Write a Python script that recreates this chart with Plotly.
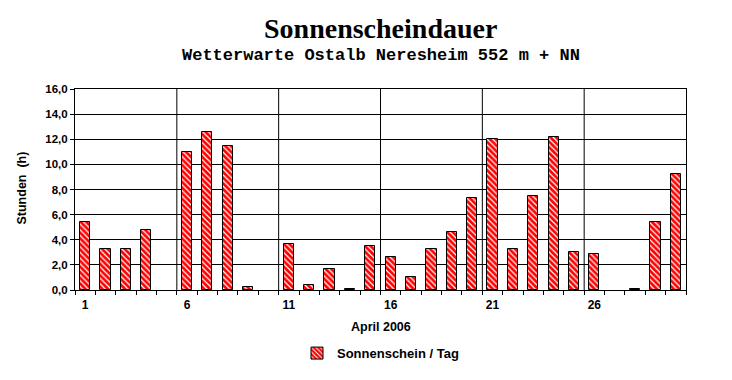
import plotly.graph_objects as go

days = list(range(1, 31))
sunshine = [5.4, 3.3, 3.3, 4.8, 0.0, 11.0, 12.6, 11.5, 0.2, 0.0,
            3.7, 0.4, 1.7, 0.1, 3.5, 2.6, 1.0, 3.3, 4.6, 7.3,
            12.0, 3.3, 7.5, 12.2, 3.0, 2.9, 0.0, 0.1, 5.4, 9.2]
label_days = [1, 6, 11, 16, 21, 26]
group_bounds = [5.5, 10.5, 15.5, 20.5, 25.5]

title = "Sonnenscheindauer"
subtitle = "Wetterwarte Ostalb Neresheim 552 m + NN"
series_name = "Sonnenschein / Tag"

SANS = "Liberation Sans, Arial, sans-serif"

# no outline for days without sunshine (nothing is drawn there in the original)
outline_widths = [1 if v > 0 else 0 for v in sunshine]

fig = go.Figure()
fig.add_trace(go.Bar(
    x=days, y=sunshine, name=series_name, width=0.5,
    marker=dict(color="#ff0000",
                line=dict(color="black", width=outline_widths),
                pattern=dict(shape="\\", fgcolor="white", bgcolor="#ff0000",
                             size=4, solidity=0.3, fillmode="replace")),
    showlegend=True,
))

for b in group_bounds:
    fig.add_shape(type="line", xref="x", yref="paper", x0=b, x1=b, y0=0, y1=1,
                  line=dict(color="black", width=1), layer="below")

fig.update_layout(
    width=732, height=380,
    margin=dict(l=75, r=46, t=89, b=87),
    paper_bgcolor="white", plot_bgcolor="white",
    separators=",.",
    bargap=0,
    showlegend=True,
    legend=dict(orientation="h", x=0.5, xanchor="center", y=-0.314, yanchor="middle",
                font=dict(family=SANS, size=13, color="black", weight="bold"),
                bgcolor="rgba(0,0,0,0)"),
    xaxis=dict(range=[0.5, 30.5], tickmode="array", tickvals=label_days,
               ticktext=[str(d) for d in label_days],
               ticks="outside", ticklen=4, tickcolor="rgba(0,0,0,0)",
               showgrid=False, zeroline=False,
               showline=True, linecolor="black", linewidth=1, mirror=True,
               tickfont=dict(family=SANS, size=12, color="black", weight="bold"),
               minor=dict(tickmode="linear", tick0=0.5, dtick=1, ticks="outside",
                          ticklen=4, tickcolor="black", showgrid=False)),
    yaxis=dict(range=[0, 16], tickmode="linear", tick0=0, dtick=2, tickformat=".1f",
               ticks="outside", ticklen=4, tickcolor="black",
               showgrid=True, gridcolor="black", gridwidth=1, zeroline=False,
               showline=True, linecolor="black", linewidth=1, mirror=True,
               tickfont=dict(family=SANS, size=11.5, color="black", weight="bold")),
    annotations=[
        dict(text=title, xref="paper", yref="paper", x=0.5, y=1 + (89 - 28) / 204,
             xanchor="center", yanchor="middle", showarrow=False,
             font=dict(family="Liberation Serif, Times New Roman, serif", size=28,
                       color="black", weight="bold")),
        dict(text=subtitle, xref="paper", yref="paper", x=0.5, y=1 + (89 - 55) / 204,
             xanchor="center", yanchor="middle", showarrow=False,
             font=dict(family="Liberation Mono, Courier New, monospace", size=17,
                       color="black", weight="bold")),
        dict(text="April 2006", xref="paper", yref="paper", x=0.5, y=-(331 - 293) / 204,
             xanchor="center", yanchor="middle", showarrow=False,
             font=dict(family=SANS, size=12.5, color="black", weight="bold")),
        dict(text="Stunden  (h)", xref="paper", yref="paper",
             x=-(75 - 22) / 611, y=0.5 - (190 - 191) / 204, textangle=-90,
             xanchor="center", yanchor="middle", showarrow=False,
             font=dict(family=SANS, size=12.5, color="black", weight="bold")),
    ],
)

fig.write_html("out.html")
